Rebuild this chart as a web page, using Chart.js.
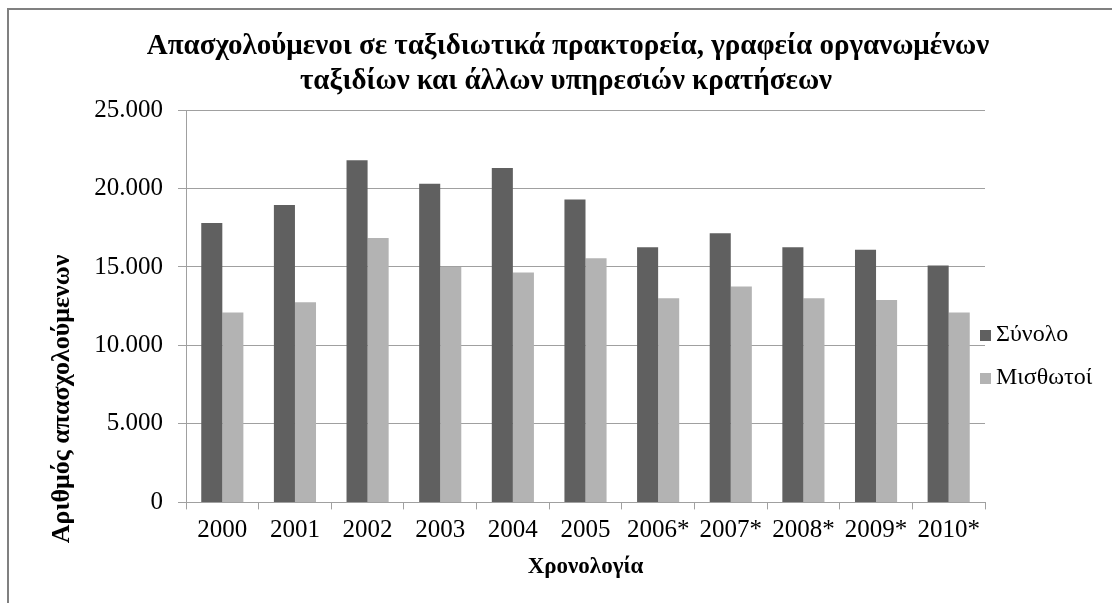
<!DOCTYPE html>
<html>
<head>
<meta charset="utf-8">
<script src="https://cdn.jsdelivr.net/npm/chart.js@4.4.1/dist/chart.umd.min.js"></script>
<style>
  html, body { margin: 0; padding: 0; background: #fff; }
  #wrap { width: 1112px; height: 603px; }
</style>
</head>
<body>
<div id="wrap"><canvas id="grafico" width="1112" height="603"></canvas></div>
<script>
// Δεδομένα
const years = ['2000', '2001', '2002', '2003', '2004', '2005', '2006*', '2007*', '2008*', '2009*', '2010*'];
const synolo = [17800, 18950, 21800, 20300, 21300, 19300, 16250, 17150, 16250, 16100, 15100];
const misthotoi = [12100, 12750, 16850, 15000, 14650, 15550, 13000, 13750, 13000, 12900, 12100];
const yTicks = [0, 5000, 10000, 15000, 20000, 25000];

const titleLines = ['Απασχολούμενοι σε ταξιδιωτικά πρακτορεία, γραφεία οργανωμένων',
                    'ταξιδίων και άλλων υπηρεσιών κρατήσεων'];
const yTitle = 'Αριθμός απασχολούμενων';
const xTitle = 'Χρονολογία';

const serif = "'Liberation Serif', 'Times New Roman', serif";

function fmt(v) {
    return String(v).replace(/\B(?=(\d{3})+(?!\d))/g, '.');
}

// πλαίσιο, τίτλος, τίτλος άξονα y και υπόμνημα
const extras = {
    id: 'extras',
    beforeDraw(chart) {
        const c = chart.ctx;
        c.save();
        c.strokeStyle = '#808080';
        c.lineWidth = 2;
        c.beginPath();
        c.moveTo(8, 603);
        c.lineTo(8, 9);
        c.lineTo(1112, 9);
        c.stroke();
        c.restore();
    },
    afterDraw(chart) {
        const c = chart.ctx;
        c.save();
        c.fillStyle = '#000';
        c.textAlign = 'center';
        c.textBaseline = 'middle';
        c.font = 'bold 29px ' + serif;
        c.fillText(titleLines[0], 568, 47);
        c.fillText(titleLines[1], 566, 82);

        c.font = 'bold 26px ' + serif;
        c.translate(62, 399);
        c.rotate(-Math.PI / 2);
        c.fillText(yTitle, 0, 0);
        c.restore();

        c.save();
        c.font = '24px ' + serif;
        c.textAlign = 'left';
        c.textBaseline = 'middle';
        chart.data.datasets.forEach((ds, i) => {
            const y = 335 + i * 43;
            c.fillStyle = ds.backgroundColor;
            c.fillRect(980, y - 5, 11, 11);
            c.fillStyle = '#000';
            c.fillText(ds.label, 996, y);
        });
        c.restore();
    }
};

const ctx = document.getElementById('grafico').getContext('2d');

new Chart(ctx, {
    type: 'bar',
    data: {
        labels: years,
        datasets: [
            { label: 'Σύνολο', data: synolo, backgroundColor: '#606060' },
            { label: 'Μισθωτοί', data: misthotoi, backgroundColor: '#b3b3b3' }
        ]
    },
    options: {
        responsive: false,
        animation: false,
        devicePixelRatio: 1,
        layout: { padding: { left: 40, right: 127, top: 110, bottom: 18 } },
        datasets: { bar: { categoryPercentage: 0.58, barPercentage: 1 } },
        plugins: {
            legend: { display: false },
            title: { display: false },
            tooltip: { enabled: false }
        },
        scales: {
            x: {
                grid: { drawOnChartArea: false, drawTicks: true, tickLength: 7, color: '#a0a0a0' },
                border: { color: '#a0a0a0' },
                ticks: { color: '#000', font: { family: serif, size: 25 }, padding: 6, maxRotation: 0 },
                title: { display: true, text: xTitle, color: '#000', font: { family: serif, size: 23, weight: 'bold' }, padding: { top: 2 } }
            },
            y: {
                min: 0,
                max: 25000,
                afterBuildTicks(scale) { scale.ticks = yTicks.map(v => ({ value: v })); },
                afterFit(scale) { scale.width = 146; },
                grid: { color: '#a0a0a0', tickLength: 8 },
                border: { color: '#a0a0a0' },
                ticks: { color: '#000', font: { family: serif, size: 25 }, padding: 15, callback: v => fmt(v) }
            }
        }
    },
    plugins: [extras]
});
</script>
</body>
</html>
